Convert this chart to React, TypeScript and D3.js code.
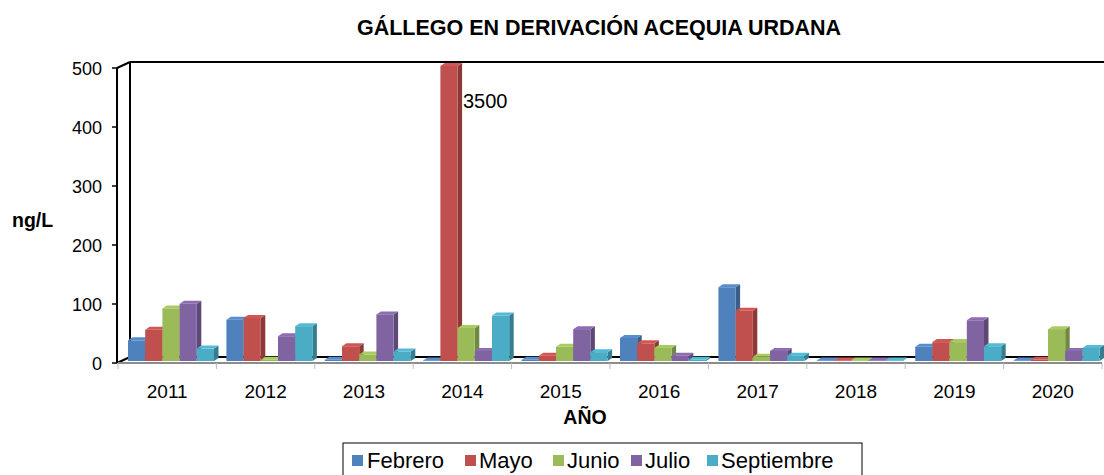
import * as d3 from "d3";

const years = ["2011", "2012", "2013", "2014", "2015", "2016", "2017", "2018", "2019", "2020"];
const seriesNames = ["Febrero", "Mayo", "Junio", "Julio", "Septiembre"];
const febrero = [35, 70, 2, 1, 2, 39, 125, 1, 24, 1];
const mayo = [53, 73, 25, 3500, 9, 30, 85, 1, 32, 2];
const junio = [89, 2, 11, 56, 24, 22, 7, 1, 32, 54];
const julio = [97, 42, 79, 17, 54, 9, 17, 1, 69, 17];
const septiembre = [21, 59, 16, 77, 15, 2, 9, 1, 25, 22];
const yTicks = [0, 100, 200, 300, 400, 500];
const colors = ["#4F81BD", "#C0504D", "#9BBB59", "#8064A2", "#4BACC6"];

const seriesValues = [febrero, mayo, junio, julio, septiembre];
const FONT = "'Liberation Sans', Arial, sans-serif";

// 3D depth of the walls and of the bars
const WALL_DX = 13;
const WALL_DY = 6;
const BAR_DX = 4.5;
const BAR_DY = 3;

export default function App() {
  const width = 1104;
  const height = 475;
  const plotLeft = 117;
  const plotRight = 1102;

  const x = d3.scaleBand<string>().domain(years).range([plotLeft + 1, plotRight]);
  const xs = d3.scaleBand<string>().domain(seriesNames).range([10, 96]);
  const yAxis = d3.scaleLinear().domain([0, 500]).range([363, 68]);
  const yBar = d3.scaleLinear().domain([0, 500]).range([361, 66]).clamp(true);

  const y0 = yAxis(0);
  const yTop = yAxis(500);

  const shade = (c: string, k: number) =>
    k > 0 ? d3.color(c)!.brighter(k).formatHex() : d3.color(c)!.darker(-k).formatHex();

  const bars: JSX.Element[] = [];
  years.forEach((yr, ci) => {
    seriesNames.forEach((s, si) => {
      const v = seriesValues[si][ci];
      const bx = (x(yr) ?? 0) + (xs(s) ?? 0);
      const bw = xs.bandwidth();
      const base = yBar(0);
      const top = yBar(v);
      const c = colors[si];
      bars.push(
        <g key={`${yr}-${s}`}>
          <polygon
            points={`${bx + bw},${top} ${bx + bw + BAR_DX},${top - BAR_DY} ${bx + bw + BAR_DX},${base - BAR_DY} ${bx + bw},${base}`}
            fill={shade(c, -0.9)}
          />
          <polygon
            points={`${bx},${top} ${bx + bw},${top} ${bx + bw + BAR_DX},${top - BAR_DY} ${bx + BAR_DX},${top - BAR_DY}`}
            fill={shade(c, 0.25)}
          />
          <rect x={bx} y={top} width={bw} height={Math.max(0, base - top)} fill={c} />
        </g>
      );
    });
  });

  // legend swatch / label x positions
  const legendSq = [352, 465, 553, 631, 707];
  const legendTx = [367, 479, 567, 645, 721];

  return (
    <svg
      width={width}
      height={height}
      style={{ position: "absolute", left: 0, top: 0, background: "#fff" }}
      fontFamily={FONT}
    >
      <text x={599} y={35} textAnchor="middle" fontSize={21.5} fontWeight="bold">
        GÁLLEGO EN DERIVACIÓN ACEQUIA URDANA
      </text>

      {/* back wall & floor edges */}
      <line x1={plotLeft + WALL_DX} y1={yTop - WALL_DY} x2={width} y2={yTop - WALL_DY} stroke="#000" strokeWidth={2} />
      <line x1={plotLeft + WALL_DX} y1={y0 - WALL_DY} x2={plotRight} y2={y0 - WALL_DY} stroke="#000" strokeWidth={2} />
      <line x1={plotLeft + WALL_DX} y1={yTop - WALL_DY} x2={plotLeft + WALL_DX} y2={y0 - WALL_DY} stroke="#000" strokeWidth={2} />
      <line x1={plotLeft} y1={yTop} x2={plotLeft + WALL_DX} y2={yTop - WALL_DY} stroke="#000" strokeWidth={2} />
      <line x1={plotLeft} y1={y0} x2={plotLeft + WALL_DX} y2={y0 - WALL_DY} stroke="#000" strokeWidth={2} />

      {bars}

      {/* front floor edge / category axis */}
      <line x1={plotLeft} y1={y0} x2={plotRight} y2={y0} stroke="#8c8c8c" strokeWidth={2} />
      {years.map((yr) => (
        <line key={yr} x1={x(yr)} y1={y0} x2={x(yr)} y2={y0 + 6} stroke="#bbb" strokeWidth={1} />
      ))}
      <line x1={plotRight} y1={y0} x2={plotRight} y2={y0 + 6} stroke="#bbb" strokeWidth={1} />
      {years.map((yr) => (
        <text key={yr} x={(x(yr) ?? 0) + x.bandwidth() / 2} y={398} textAnchor="middle" fontSize={19}>
          {yr}
        </text>
      ))}

      {/* value axis */}
      <line x1={plotLeft} y1={yTop} x2={plotLeft} y2={y0} stroke="#000" strokeWidth={2} />
      {yTicks.map((t) => (
        <g key={t}>
          <line x1={plotLeft - 5} y1={yAxis(t)} x2={plotLeft} y2={yAxis(t)} stroke="#000" strokeWidth={1.5} />
          <text x={102} y={yAxis(t) + 6.5} textAnchor="end" fontSize={18}>
            {t}
          </text>
        </g>
      ))}

      <text x={463} y={108} fontSize={20}>3500</text>

      <text x={12} y={227} fontSize={19.5} fontWeight="bold">ng/L</text>
      <text x={585} y={424} textAnchor="middle" fontSize={19.5} fontWeight="bold">AÑO</text>

      {/* legend */}
      <rect x={343} y={443} width={519} height={40} fill="#fff" stroke="#000" strokeWidth={1} />
      {seriesNames.map((s, i) => (
        <g key={s}>
          <rect x={legendSq[i]} y={455} width={11} height={11} fill={colors[i]} />
          <text x={legendTx[i]} y={468} fontSize={22}>
            {s}
          </text>
        </g>
      ))}
    </svg>
  );
}
